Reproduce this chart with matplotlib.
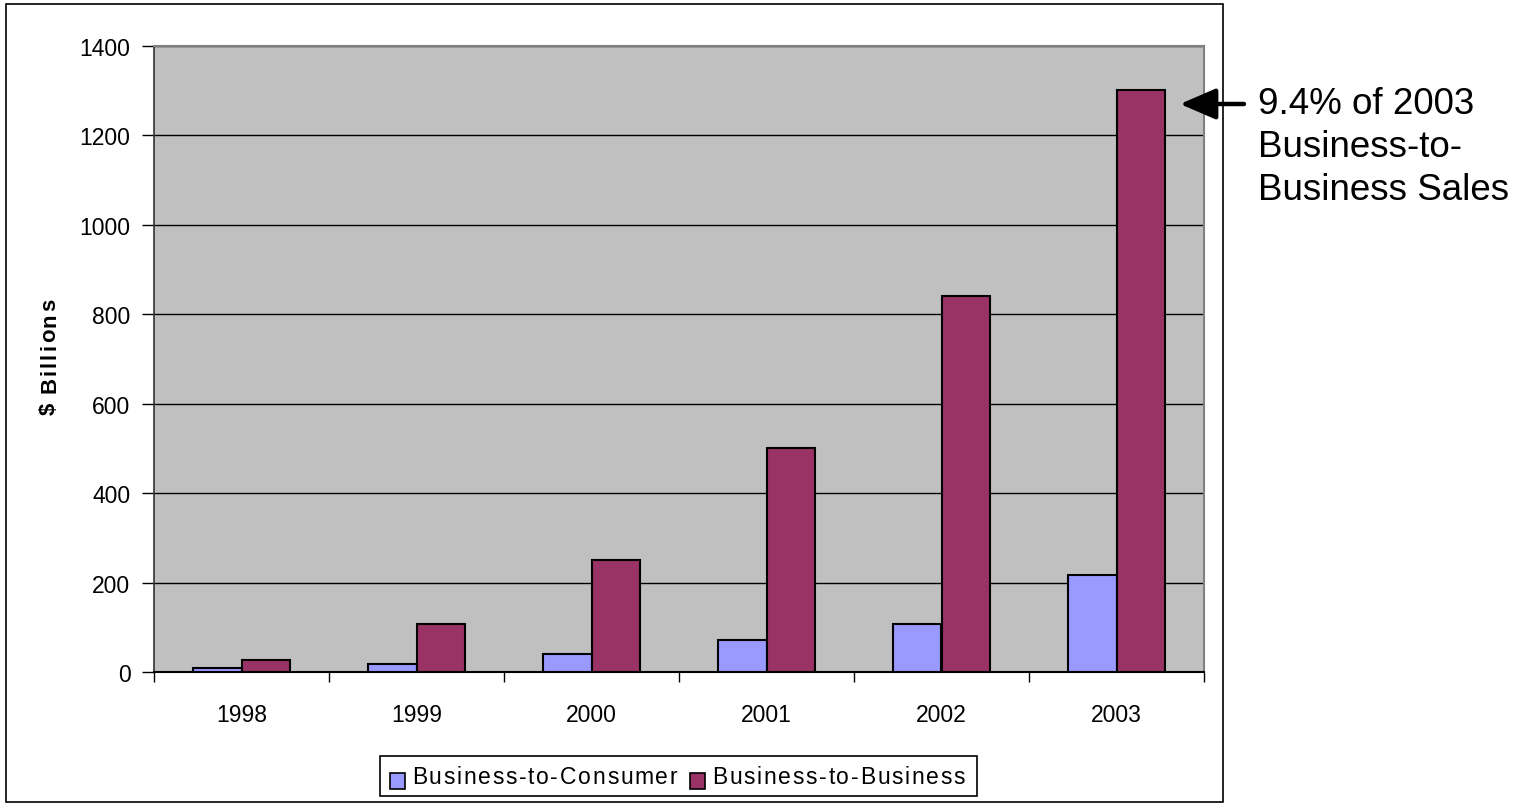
import matplotlib
matplotlib.use("Agg")
import matplotlib.pyplot as plt
from matplotlib.patches import Rectangle, FancyArrowPatch
from matplotlib.font_manager import FontProperties
from matplotlib.textpath import TextToPath
import numpy as np

plt.rcParams['font.family'] = ['Liberation Sans', 'DejaVu Sans']

years = ["1998", "1999", "2000", "2001", "2002", "2003"]
b2c = [8, 17, 40, 71, 107, 218]
b2b = [26, 107, 250, 501, 841, 1301]
series_names = ["Business-to-Consumer", "Business-to-Business"]
colors = ["#9999FF", "#993366"]
yticks = [0, 200, 400, 600, 800, 1000, 1200, 1400]
y_title = "$ Billions"
note = "9.4% of 2003\nBusiness-to-\nBusiness Sales"

W, H = 1528, 812
DPI = 100
fig = plt.figure(figsize=(W / DPI, H / DPI), dpi=DPI)
fig.patch.set_facecolor("white")


def fx(px):
    return px / W


def fy(py):
    return 1 - py / H


_t2p = TextToPath()


def ink_width(s, prop):
    w, _, _ = _t2p.get_text_width_height_descent(s, prop, ismath=False)
    return w * DPI / 72.0


def spaced_text(x0, y0, s, size, weight="normal", spacing=0.0, vertical=False):
    """Draw text one glyph at a time with extra tracking (pixels)."""
    prop = FontProperties(family="Liberation Sans", size=size, weight=weight)
    for k, ch in enumerate(s):
        if ch == " ":
            continue
        off = ink_width(s[:k + 1], prop) - ink_width(ch, prop) + k * spacing
        if vertical:
            fig.text(fx(x0), fy(y0 - off), ch, fontproperties=prop, rotation=90,
                     rotation_mode="anchor", ha="left", va="baseline")
        else:
            fig.text(fx(x0 + off), fy(y0), ch, fontproperties=prop,
                     ha="left", va="baseline")
    return ink_width(s, prop) + (len(s) - 1) * spacing


ax = fig.add_axes([fx(154), fy(673), fx(1204) - fx(154), fy(47) - fy(673)])
ax.set_facecolor("#C0C0C0")

x = np.arange(len(years))
w = 0.275
ax.bar(x - w / 2, b2c, width=w, color=colors[0], edgecolor="black", linewidth=1.5, zorder=3)
ax.bar(x + w / 2, b2b, width=w, color=colors[1], edgecolor="black", linewidth=1.5, zorder=3)

ax.set_xlim(-0.5, len(years) - 0.5)
ax.set_ylim(0, 1400)
ax.set_yticks(yticks)
ax.set_yticklabels([str(v) for v in yticks], fontsize=16.5)
ax.yaxis.grid(True, color="black", linewidth=1, zorder=1)
ax.set_axisbelow(True)

ax.set_xticks(x)
ax.set_xticklabels(years, fontsize=16.5)
ax.set_xticks(np.arange(-0.5, len(years)), minor=True)
ax.tick_params(axis="x", which="major", length=0, pad=22)
ax.tick_params(axis="x", which="minor", length=7, width=1, color="black", direction="out")
ax.tick_params(axis="y", length=9, width=1, color="black", direction="out", pad=8)

for side in ("top", "right"):
    ax.spines[side].set_color("#808080")
    ax.spines[side].set_linewidth(1.5)
ax.spines["left"].set_color("#333333")
ax.spines["left"].set_linewidth(1.2)
ax.spines["bottom"].set_color("black")
ax.spines["bottom"].set_linewidth(1.5)

# rotated axis title
spaced_text(55, 415, y_title, 16, weight="bold", spacing=1.9, vertical=True)

# outer chart frame
fig.patches.append(Rectangle((fx(6), fy(803)), fx(1223) - fx(6), fy(5) - fy(803),
                             transform=fig.transFigure, fill=False, edgecolor="black",
                             linewidth=1.2, zorder=0))

# legend: frame, swatches and labels
fig.patches.append(Rectangle((fx(380), fy(797)), fx(977) - fx(380), fy(757) - fy(797),
                             transform=fig.transFigure, fill=False, edgecolor="black",
                             linewidth=1.2, zorder=5))
legend_x = 390
for name, col in zip(series_names, colors):
    fig.patches.append(Rectangle((fx(legend_x), fy(790)), fx(15) - fx(0), fy(774) - fy(790),
                                 transform=fig.transFigure, facecolor=col,
                                 edgecolor="black", linewidth=1.2, zorder=6))
    tw = spaced_text(legend_x + 22, 784, name, 16.5, spacing=1.7)
    legend_x = legend_x + 22 + tw + 13

# callout arrow and text
arrow = FancyArrowPatch((fx(1244), fy(105)), (fx(1180), fy(105)),
                        transform=fig.transFigure,
                        arrowstyle="-|>,head_length=2.2,head_width=0.95",
                        mutation_scale=10, color="black", linewidth=3.2,
                        shrinkA=0, shrinkB=0)
fig.patches.append(arrow)
fig.text(fx(1258), fy(87), note, fontsize=26.5, ha="left", va="top", linespacing=1.3)

fig.savefig("out.png", dpi=DPI)
